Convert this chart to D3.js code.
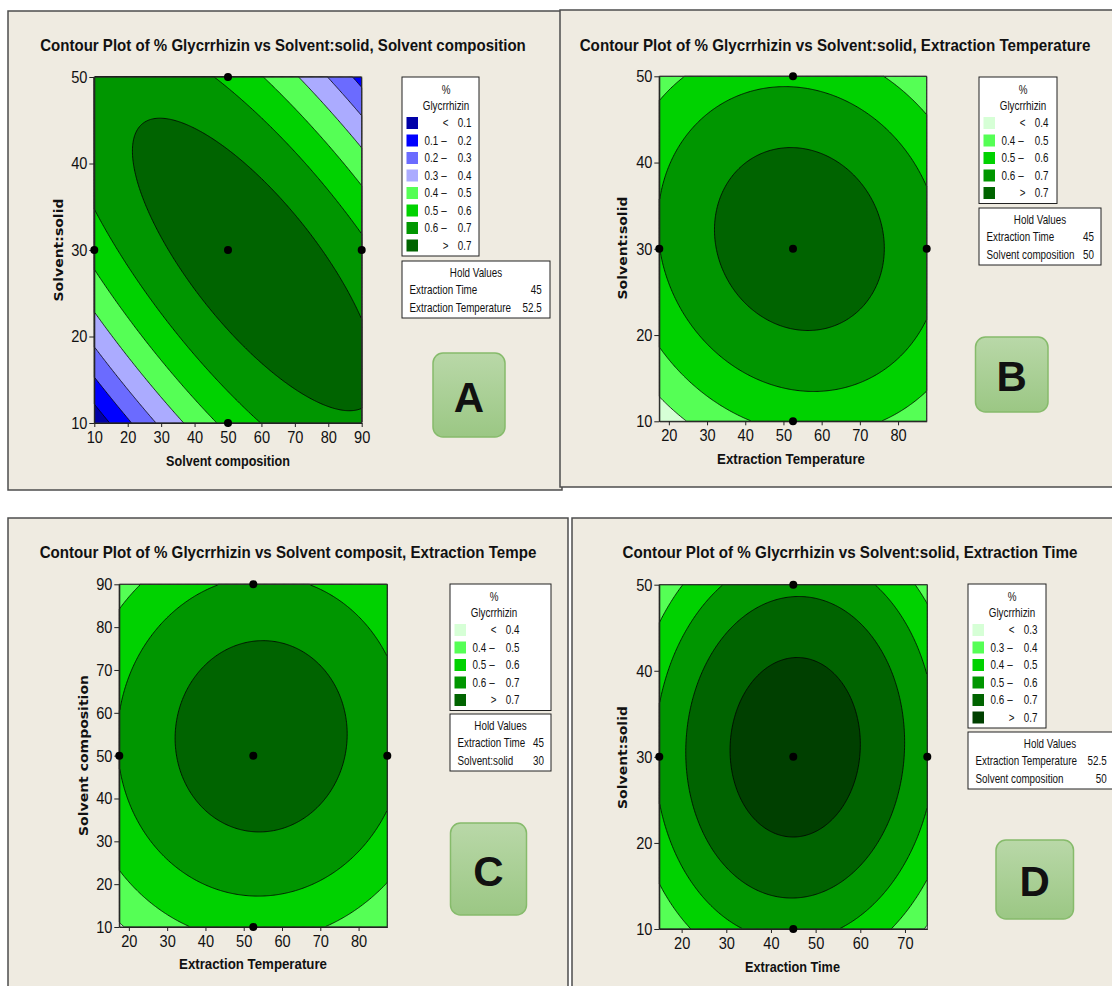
<!DOCTYPE html>
<html><head><meta charset="utf-8">
<script src="https://cdn.jsdelivr.net/npm/d3@7"></script>
<style>
html,body{margin:0;padding:0;background:#fff;}
svg{display:block;}
text{fill:#111;}
</style></head><body>
<svg id="chart" width="1112" height="986"></svg>
<script>
const panelTitles = [
  "Contour Plot of % Glycrrhizin vs Solvent:solid, Solvent composition",
  "Contour Plot of % Glycrrhizin vs Solvent:solid, Extraction Temperature",
  "Contour Plot of % Glycrrhizin vs Solvent composit, Extraction Tempe",
  "Contour Plot of % Glycrrhizin vs Solvent:solid, Extraction Time"
];
const xAxisNames = ["Solvent composition", "Extraction Temperature", "Extraction Temperature", "Extraction Time"];
const yAxisNames = ["Solvent:solid", "Solvent:solid", "Solvent composition", "Solvent:solid"];
const xRanges = [[10, 90], [17.5, 87.5], [17.5, 87.5], [15, 75]];
const yRanges = [[10, 50], [10, 50], [10, 90], [10, 50]];
const xTickValues = [[10,20,30,40,50,60,70,80,90],[20,30,40,50,60,70,80],[20,30,40,50,60,70,80],[20,30,40,50,60,70]];
const yTickValues = [[10,20,30,40,50],[10,20,30,40,50],[10,20,30,40,50,60,70,80,90],[10,20,30,40,50]];
const levelBreaks = [[0.1,0.2,0.3,0.4,0.5,0.6,0.7],[0.4,0.5,0.6,0.7],[0.4,0.5,0.6,0.7],[0.3,0.4,0.5,0.6,0.7]];
const bandColors = [
  ["#0000a8","#0000ff","#6b6bff","#ababff","#55ff55","#00d200","#009600","#006400"],
  ["#d6ffd6","#55ff55","#00d200","#009600","#006400"],
  ["#d6ffd6","#55ff55","#00d200","#009600","#006400"],
  ["#d6ffd6","#55ff55","#00d200","#009600","#006400","#004000"]
];
const holdNames = [["Extraction Time","Extraction Temperature"],["Extraction Time","Solvent composition"],["Extraction Time","Solvent:solid"],["Extraction Temperature","Solvent composition"]];
const holdValues = [["45","52.5"],["45","50"],["45","30"],["52.5","50"]];
const designPoints = [
  [[10,30],[90,30],[50,10],[50,50],[50,30]],
  [[17.5,30],[87.5,30],[52.5,10],[52.5,50],[52.5,30]],
  [[17.5,50],[87.5,50],[52.5,10],[52.5,90],[52.5,50]],
  [[15,30],[75,30],[45,10],[45,50],[45,30]]
];
const panelLetters = ["A","B","C","D"];

// Quadratic response surface in coded units u, v (-1..1):
// [b0, bu, bv, buu, bvv, buv]
const coefA = [0.7539, 0.0444, 0.0238, -0.1720, -0.2010, -0.2883];
const coefB = [0.7552, 0.0154, 0.0245, -0.1409, -0.2022, -0.0341];
const coefC = [0.7531, 0.0151, 0.0401, -0.1354, -0.1792, 0.0066];
const coefD = [0.7542, 0.0058, 0.0223, -0.2324, -0.2021, 0.0138];
const surfaceCoefs = [coefA, coefB, coefC, coefD];

const FONT = "'Liberation Sans', Arial, sans-serif";
const NARROW = 0.82;

const layout = [
  {frame:[8,11,554,479], plot:[94.3,77,267.4,346], title:[283,45,486], xlab:[228,461,124], ylab:[59,250,103],
   legend:[402,77,77], hold:[402,261,148,541.7], badge:[433,353,72,84]},
  {frame:[560,10,560,477], plot:[659.3,76.3,267.4,345], title:[835,45,511], xlab:[791,459,148], ylab:[623,248,103],
   legend:[979,77,78], hold:[979,208,122,1094], badge:[975.5,337,72.5,75]},
  {frame:[8,518,560,480], plot:[119.3,584.3,268,342.7], title:[288,552,497], xlab:[253,964,148], ylab:[84,755.5,161],
   legend:[450,584,101], hold:[450,714,101,544], badge:[450.5,823,76,92]},
  {frame:[572,518,560,480], plot:[659.3,584.7,268,344.3], title:[850,552,455], xlab:[792.5,966.7,95], ylab:[622.6,757.5,103],
   legend:[968,584,78], hold:[968,732,164,1106.7], badge:[996,840,77.5,79]}
];

function addText(parent, x, y, str, o = {}) {
  const base = `translate(${x},${y})` + (o.rotate ? ` rotate(${o.rotate})` : "");
  const t = parent.append("text")
    .attr("transform", base)
    .attr("text-anchor", o.anchor || "start")
    .attr("dominant-baseline", "central")
    .style("font-family", o.family || FONT)
    .attr("font-size", o.size || 12)
    .attr("font-weight", o.weight || "normal")
    .text(str);
  let sx = o.sx || NARROW;
  if (o.width) sx = o.width / t.node().getComputedTextLength();
  t.attr("transform", base + ` scale(${sx},1)`);
  return t;
}

const svg = d3.select("#chart");
const defs = svg.append("defs");
const grad = defs.append("linearGradient").attr("id","badgeFill").attr("x1",0).attr("y1",0).attr("x2",0).attr("y2",1);
grad.append("stop").attr("offset","0%").attr("stop-color","#b9d8a8");
grad.append("stop").attr("offset","100%").attr("stop-color","#9bc784");

const fmt = d3.format(".1f");

layout.forEach((L, k) => {
  const g = svg.append("g");
  const [fx,fy,fw,fh] = L.frame;
  g.append("rect").attr("x",fx).attr("y",fy).attr("width",fw).attr("height",fh)
    .attr("fill","#efebe1").attr("stroke","#4d4d4d").attr("stroke-width",1.5);

  addText(g, L.title[0], L.title[1], panelTitles[k], {anchor:"middle", size:16.5, weight:"bold", width:L.title[2]});

  const [px,py,pw,ph] = L.plot;
  const x = d3.scaleLinear().domain(xRanges[k]).range([px,px+pw]);
  const y = d3.scaleLinear().domain(yRanges[k]).range([py+ph,py]);

  // fitted surface sampled on a grid, then banded with d3.contours
  const c = surfaceCoefs[k];
  const xc=(xRanges[k][0]+xRanges[k][1])/2, xh=(xRanges[k][1]-xRanges[k][0])/2;
  const yc=(yRanges[k][0]+yRanges[k][1])/2, yh=(yRanges[k][1]-yRanges[k][0])/2;
  const surf = (xv,yv) => { const u=(xv-xc)/xh, v=(yv-yc)/yh;
    return c[0]+c[1]*u+c[2]*v+c[3]*u*u+c[4]*v*v+c[5]*u*v; };
  const nx=240, ny=240, vals=new Array(nx*ny);
  for (let j=0;j<ny;j++) for (let i=0;i<nx;i++){
    const xv = x.invert(px+(i+0.5)/nx*pw), yv = y.invert(py+(j+0.5)/ny*ph);
    vals[j*nx+i] = surf(xv,yv);
  }
  const contours = d3.contours().size([nx,ny]).thresholds(levelBreaks[k])(vals);
  const proj = d3.geoTransform({point(a,b){ this.stream.point(px+a/nx*pw, py+b/ny*ph); }});
  const path = d3.geoPath(proj);
  g.append("rect").attr("x",px).attr("y",py).attr("width",pw).attr("height",ph).attr("fill",bandColors[k][0]);
  g.append("g").selectAll("path").data(contours).join("path")
    .attr("d",path).attr("fill",(d,i)=>bandColors[k][i+1])
    .attr("stroke","#000").attr("stroke-width",0.8).attr("stroke-linejoin","round");
  g.append("rect").attr("x",px).attr("y",py).attr("width",pw).attr("height",ph)
    .attr("fill","none").attr("stroke","#333").attr("stroke-width",1);

  // axes
  const ax = g.append("g").attr("transform",`translate(0,${py+ph})`)
    .call(d3.axisBottom(x).tickValues(xTickValues[k]).tickSize(4).tickSizeOuter(0).tickPadding(4));
  const ay = g.append("g").attr("transform",`translate(${px},0)`)
    .call(d3.axisLeft(y).tickValues(yTickValues[k]).tickSize(5).tickSizeOuter(0).tickPadding(3));
  [ax,ay].forEach(a=>{
    a.attr("font-family",null).attr("font-size",null);
    a.selectAll("text").style("font-family",FONT).attr("font-size",17).attr("fill","#111")
      .attr("transform","scale(0.86,1)");
    a.selectAll("line,path").attr("stroke","#222");
  });

  addText(g, L.xlab[0], L.xlab[1], xAxisNames[k], {anchor:"middle", size:15, weight:"bold", width:L.xlab[2]});
  addText(g, L.ylab[0], L.ylab[1], yAxisNames[k], {anchor:"middle", size:12.5, weight:"bold", width:L.ylab[2],
    rotate:-90, family:"'DejaVu Sans', Verdana, sans-serif"});

  // design points
  g.append("g").selectAll("circle").data(designPoints[k]).join("circle")
    .attr("cx",d=>x(d[0])).attr("cy",d=>y(d[1])).attr("r",4).attr("fill","#000");

  // legend
  const [lx,ly,lw] = L.legend;
  const br = levelBreaks[k], nRows = br.length+1;
  const lh = 39 + nRows*17.5;
  const lg = g.append("g");
  lg.append("rect").attr("x",lx).attr("y",ly).attr("width",lw).attr("height",lh).attr("fill","#fff").attr("stroke","#222").attr("stroke-width",1);
  addText(lg, lx+44, ly+13, "%", {anchor:"middle"});
  addText(lg, lx+44, ly+29, "Glycrrhizin", {anchor:"middle"});
  for (let r=0;r<nRows;r++){
    const ry = ly+46+r*17.5;
    lg.append("rect").attr("x",lx+4.5).attr("y",ry-6).attr("width",11.5).attr("height",12).attr("fill",bandColors[k][r]);
    if (r===0 || r===nRows-1){
      addText(lg, lx+43.5, ry, r===0?"<":">", {anchor:"middle"});
      addText(lg, lx+69.5, ry, fmt(r===0?br[0]:br[br.length-1]), {anchor:"end"});
    } else {
      addText(lg, lx+22.5, ry, fmt(br[r-1]));
      addText(lg, lx+42, ry, "–", {anchor:"middle"});
      addText(lg, lx+69.5, ry, fmt(br[r]), {anchor:"end"});
    }
  }
  // hold values
  const [hx,hy,hw,hv] = L.hold;
  lg.append("rect").attr("x",hx).attr("y",hy).attr("width",hw).attr("height",57).attr("fill","#fff").attr("stroke","#222").attr("stroke-width",1);
  addText(lg, hx+hw/2, hy+12, "Hold Values", {anchor:"middle"});
  holdNames[k].forEach((n,i)=>{
    addText(lg, hx+7.5, hy+29+i*18, n);
    addText(lg, hv, hy+29+i*18, holdValues[k][i], {anchor:"end"});
  });

  // panel badge
  const [bx,by,bw,bh] = L.badge;
  g.append("rect").attr("x",bx).attr("y",by).attr("width",bw).attr("height",bh).attr("rx",10)
    .attr("fill","url(#badgeFill)").attr("stroke","#86bb6b").attr("stroke-width",1.5);
  addText(g, bx+bw/2, by+bh/2+2, panelLetters[k], {anchor:"middle", size:42, weight:"bold", sx:1});
});
</script></body></html>
